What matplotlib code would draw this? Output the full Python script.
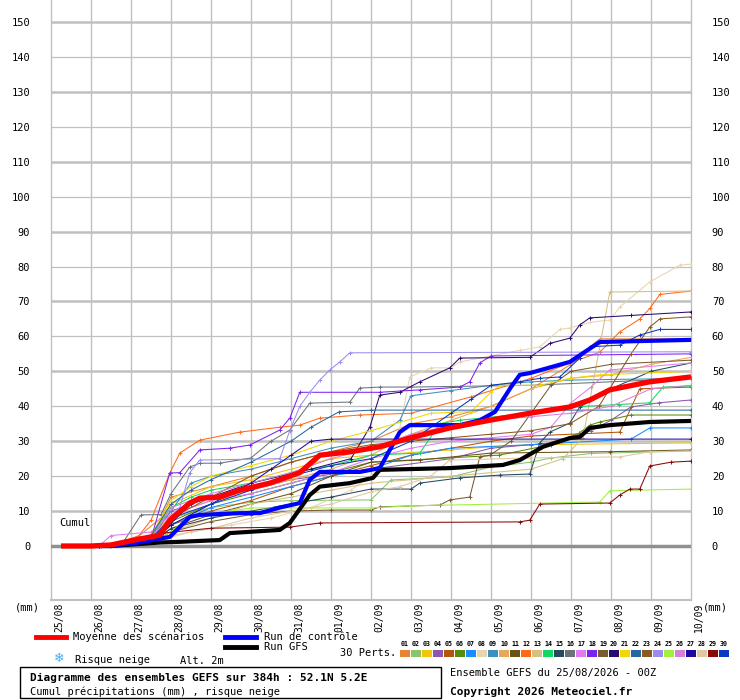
import numpy as np
import matplotlib.pyplot as plt
import matplotlib.transforms as mtransforms

# dates along the x axis (one tick per day, 25/08 00Z -> 10/09 00Z)
dates = ['25/08', '26/08', '27/08', '28/08', '29/08', '30/08', '31/08', '01/09',
         '02/09', '03/09', '04/09', '05/09', '06/09', '07/09', '08/09', '09/09', '10/09']
yticks = list(range(0, 160, 10))

# ensemble mean (day since 25/08 00Z, mm)
mean_d = [0.25, 1.0, 1.5, 2.0, 2.72, 2.97, 3.47, 3.72, 4.22, 4.72, 5.47, 6.22, 6.72, 7.5, 8.22,
          9.0, 9.97, 10.97, 11.97, 12.97, 13.47, 13.97, 14.97, 16.0]
mean_v = [0, 0, 0.3, 1.5, 3.1, 7.4, 12.3, 13.7, 14.0, 16.0, 18.0, 21.0, 26.0, 27.0, 28.4,
          31.0, 33.8, 36.0, 38.0, 39.8, 41.8, 44.7, 47.0, 48.4]

# control run
ctrl_d = [1.2, 1.5, 2.2, 2.97, 3.47, 3.72, 4.72, 5.22, 5.72, 6.22, 6.47, 6.72, 7.72, 8.22, 8.47,
          8.72, 8.97, 10.22, 10.72, 11.1, 11.5, 11.72, 11.97, 12.97, 13.72, 16.0]
ctrl_v = [0, 0, 1.0, 2.6, 8.3, 8.9, 9.4, 9.4, 11.0, 12.3, 19.0, 21.2, 21.2, 22.3, 27.5,
          32.6, 34.6, 34.6, 36.0, 38.4, 45.5, 49.0, 49.5, 52.7, 58.4, 59.0]

# deterministic GFS run
gfs_d = [1.2, 1.5, 2.72, 3.22, 4.22, 4.47, 5.72, 5.97, 6.47, 6.72, 7.47, 8.05, 8.22, 9.97, 11.3,
         11.72, 12.3, 12.97, 13.22, 13.47, 13.97, 14.97, 16.0]
gfs_v = [0, 0, 1.0, 1.2, 1.7, 3.7, 4.6, 6.6, 14.6, 17.0, 18.0, 19.5, 21.8, 22.3, 23.2,
         24.6, 28.4, 30.9, 31.2, 33.8, 34.6, 35.5, 35.8]

# 30 perturbations, (day, mm) pairs
p01 = [(1.2, 0), (2, 1), (2.75, 8), (3, 14), (4, 17), (5, 20), (6, 24), (7, 27), (8, 30), (9, 35),
       (10, 37), (11, 40), (12, 45), (12.97, 51.8), (13.22, 53.8), (13.47, 57), (13.72, 59.3), (16, 59.3)]
p02 = [(1.2, 0), (2.5, 3), (3, 8), (4, 11), (5, 12.5), (6, 13), (8, 13.2), (8.5, 18.9), (10, 19.8),
       (11, 22.6), (12, 24), (12.5, 25.2), (13.5, 26.5), (16, 27.2)]
p03 = [(1.2, 0), (2.5, 2), (3, 12), (4, 17), (5, 19), (6, 22), (7, 25), (8, 26), (10, 27.5),
       (11, 28.4), (12, 29), (16, 29.5)]
p04 = [(1.2, 0), (2.5, 2), (3, 10), (4, 14), (5, 16), (6, 19), (8, 22), (10, 25), (11, 28),
       (12.5, 29.5), (13.5, 33), (14, 36), (14.5, 39.8), (15.2, 41), (16, 41.8)]
p05 = [(1.2, 0), (2.5, 1), (3, 6), (4, 10), (5, 13), (6, 17), (7, 20), (8, 23), (9, 26), (10, 28),
       (11, 30), (12, 31.5), (14.22, 32.6), (14.72, 45), (16, 45.5)]
p06 = [(1.2, 0), (2.5, 2), (3, 7), (4, 12), (5, 15), (6, 18), (7, 21), (8, 24), (11.2, 26),
       (12.5, 29), (13.2, 32.3), (13.47, 34.6), (13.72, 35.5), (14.5, 37.5), (16, 37.5)]
p07 = [(1.2, 0), (2.5, 1), (3, 6), (4, 11), (5, 14), (6, 17), (7, 20), (8, 22), (9, 26), (10, 28),
       (12, 29), (14.5, 30.6), (14.97, 33.8), (16, 33.8)]
p08 = [(1.2, 0), (2.5, 1), (3.5, 4), (4.5, 6), (5.5, 8), (6.5, 11), (7.5, 16), (8.22, 22), (8.5, 28),
       (8.72, 33.8), (8.97, 48.4), (9.5, 51), (10, 51), (10.22, 52.7), (11.72, 56), (12.22, 57),
       (12.72, 62), (12.97, 62.4), (13.47, 64), (13.97, 64.7), (14.22, 68.4), (14.97, 75.6),
       (15.72, 80.4), (16, 80.7)]
p09 = [(1.2, 0), (2.5, 3), (3, 10), (3.5, 18), (4, 20), (5, 22), (6, 25), (7, 28), (8, 30),
       (8.72, 36), (9, 43), (10, 44.5), (11, 46), (12, 47), (13, 47.5), (16, 48)]
p10 = [(1.2, 0), (2.5, 2), (3, 9), (4, 13), (5, 16), (6, 19), (7, 22), (8, 26), (9, 32), (10, 36),
       (11, 40), (12, 45), (13, 48), (14, 49), (15, 52), (16, 54)]
p11 = [(1.2, 0), (2.5, 1), (3, 5), (4, 9), (5, 12), (6, 15), (7, 20), (8, 24), (9.22, 24.6),
       (11, 26.6), (13.97, 27), (16, 27.5)]
p12 = [(1.5, 0), (2.2, 3), (2.5, 7.4), (2.97, 20.9), (3.22, 26.6), (3.72, 30.3), (4.72, 32.6),
       (5.72, 34), (6.22, 34.6), (6.72, 36.6), (7.72, 37.5), (9, 38), (10.5, 42.7), (12, 48),
       (12.97, 52.4), (13.72, 55.5), (14.22, 61.3), (14.72, 65), (14.97, 68), (15.22, 72), (16, 73)]
p13 = [(1.2, 0), (2.5, 1), (3, 4), (4, 8), (5, 12), (6, 14), (7, 16), (8, 18), (10, 20), (12, 22),
       (12.8, 25), (13.3, 31), (13.97, 72.7), (16, 73)]
p14 = [(1.2, 0), (2.5, 3), (3, 11), (3.5, 14), (4, 16), (5, 18), (6, 21), (7, 23), (8, 26),
       (9.22, 26.6), (9.72, 35), (10.22, 36), (11.97, 38), (12.5, 39.5), (14.2, 40.5), (14.97, 41),
       (15.3, 45.5), (16, 45.8)]
p15 = [(1.2, 0), (2.5, 1), (3, 5), (4, 8), (5, 10), (6, 12), (7, 14), (8, 16.3), (9, 16.3),
       (9.22, 18), (10.22, 19.5), (11.22, 20.3), (11.97, 20.6), (12.22, 29.5), (12.47, 32.6),
       (12.97, 35.2), (13.22, 39.8), (14, 45), (15, 50), (16, 52.4)]
p16 = [(1.2, 0), (1.8, 1), (2.25, 8.9), (2.75, 9), (3, 15), (3.47, 22.6), (3.72, 23.7), (4.22, 23.7),
       (5, 25.2), (5.5, 30), (5.97, 33.2), (6.47, 40.9), (7.47, 41.2), (7.72, 45.2), (8.22, 45.5),
       (9, 45.5), (12, 46), (16, 48)]
p17 = [(1.2, 0), (1.5, 3), (2.5, 4), (3, 9), (4, 13), (5, 15), (6, 18), (7, 21), (8, 25), (9, 28),
       (10, 30), (11, 31), (12, 32), (12.5, 34), (13, 41), (13.5, 45.5), (13.97, 50.4), (16, 52.4)]
p18 = [(1.2, 0), (2.5, 2), (2.97, 20.9), (3.22, 21), (3.72, 27.5), (4.47, 28), (4.97, 28.9),
       (5.72, 33.2), (5.97, 36.6), (6.22, 44), (8.22, 44), (9.22, 44.7), (10.22, 45.5), (10.47, 47),
       (10.72, 52.4), (11, 54.4), (16, 55)]
p19 = [(1.2, 0), (2.5, 1), (3, 4), (4, 7), (5, 9), (6, 10), (7, 10.3), (8, 10.3), (8.22, 11.2),
       (9.72, 11.7), (9.97, 13.2), (10.47, 14), (10.72, 25.5), (10.97, 26), (11.5, 30), (12, 38),
       (12.5, 46), (13, 50), (14, 52), (16, 53.2)]
p20 = [(1.2, 0), (2.5, 1), (3.5, 12), (5, 18), (6.5, 22), (7.5, 25), (7.97, 34), (8.22, 43.2),
       (8.72, 44), (9.22, 47), (9.97, 51), (10.22, 53.8), (11.97, 54), (12.47, 58), (12.97, 59.5),
       (13.22, 63.3), (13.47, 65.3), (14.5, 66), (16, 67)]
p21 = [(1.2, 0), (2.5, 3), (3, 13), (3.5, 17), (4, 20), (5, 23), (6, 26), (7, 30), (8, 33),
       (9.5, 38), (10.5, 38.5), (11, 44), (11.22, 46), (12.22, 46), (12.97, 48), (13.72, 49), (16, 50)]
p22 = [(1.2, 0), (2.5, 3), (3, 12), (3.5, 16), (4, 19), (5, 24), (6, 30), (6.5, 34), (7.2, 38.4),
       (8, 38.9), (16, 38.9)]
p23 = [(1.2, 0), (2.5, 2), (3, 8), (4, 14), (5, 20), (6, 24), (7, 27), (8, 29), (9, 30), (10, 31),
       (11, 32), (12, 33), (12.97, 35), (13.7, 40), (14.5, 55), (14.97, 62.7), (15.22, 65), (16, 65.6)]
p24 = [(1.2, 0), (2.5, 2), (3.22, 11), (3.47, 21), (3.72, 24.6), (5.72, 25), (5.97, 33), (6.22, 40),
       (6.47, 44), (6.72, 47.5), (6.97, 50.4), (7.22, 52.7), (7.47, 55.3), (16, 55.6)]
p25 = [(1.2, 0), (2.5, 1), (3, 4), (3.5, 9), (4.5, 10), (5, 10.9), (8, 10.9), (9, 11.5),
       (13.72, 12.6), (13.97, 15.8), (16, 16.3)]
p26 = [(1.2, 0), (2.5, 2), (3, 11), (4, 15), (5, 18), (6, 21), (7, 25), (8, 28), (9, 32), (10, 34.5),
       (11, 36), (12, 37), (13, 38), (14, 40), (15, 45), (16, 46)]
p27 = [(1.2, 0), (2.5, 1), (3, 6), (4, 12), (5, 18), (5.5, 22), (6, 26), (6.5, 30), (7, 30.6), (16, 30.6)]
p28 = [(1.2, 0), (2.5, 1), (3, 3), (4, 5), (5, 8), (6, 10), (7, 12), (8, 15.5), (8.72, 17),
       (9.47, 19.8), (9.97, 24.6), (11.97, 25.2), (14.22, 25.5), (14.97, 27), (16, 27.2)]
p29 = [(1.2, 0), (1.8, 1), (2.8, 3.7), (4, 5.1), (5.97, 5.4), (6.72, 6.6), (11.72, 6.9), (11.97, 7.4),
       (12.22, 12), (13.97, 12.3), (14.22, 14.6), (14.47, 16.3), (14.72, 16.3), (14.97, 22.9),
       (15.5, 24), (16, 24.3)]
p30 = [(1.2, 0), (2.5, 2), (3, 8), (4, 12), (5, 16), (6, 20), (7, 23), (8, 25), (9, 30), (10, 38),
       (10.5, 42), (11, 46), (11.72, 47), (12.22, 48), (12.72, 48.4), (13.22, 53.8), (13.47, 57),
       (14.22, 57.5), (14.72, 60.4), (15.22, 62), (16, 62)]
perts = [p01, p02, p03, p04, p05, p06, p07, p08, p09, p10, p11, p12, p13, p14, p15,
         p16, p17, p18, p19, p20, p21, p22, p23, p24, p25, p26, p27, p28, p29, p30]

pert_colors = ['#e8832f', '#8bc46a', '#f2c40a', '#8c57ae', '#b5540b', '#5a8a0a', '#1a8cff', '#e8d5b0',
               '#3c90c0', '#e8a85a', '#6b5318', '#ff6a1a', '#d4c080', '#10d860', '#244a60', '#6a7478',
               '#e07cf0', '#7c22f0', '#7a5a30', '#2c0a70', '#f0d800', '#2868a0', '#8a5a20', '#9c8cf0',
               '#a0f040', '#d880d8', '#2008a0', '#e0c8a0', '#880808', '#0a38c0']

W, H = 740, 700
plt.rcParams['font.family'] = 'DejaVu Sans Mono'
fs = 7.5

fig = plt.figure(figsize=(W / 100, H / 100), dpi=100)
ax = fig.add_axes([51 / W, 100 / H, 640 / W, 600 / H])

# pixel scale: 0 mm at y=546, 150 mm at y=22
ppm = (546 - 22) / 150.0
ax.set_xlim(0, 16)
ax.set_ylim(-(600 - 546) / ppm, 546 / ppm)

# grid
for d in range(17):
    ax.axvline(d, color='#c0c0c0', lw=1.0, zorder=0, clip_on=False)
for v in yticks[1:]:
    ax.axhline(v, color='#c0c0c0', lw=1.8 if (v // 10) % 2 == 1 else 0.9, zorder=0)
ax.axhline(0, color='#909090', lw=2.5, zorder=0)
ax.axhline(ax.get_ylim()[0], color='#c0c0c0', lw=1.5, zorder=0, clip_on=False)
for s in ax.spines.values():
    s.set_visible(False)

# perturbations
for pts, c in zip(perts, pert_colors):
    d = [p[0] for p in pts]
    v = [p[1] for p in pts]
    ax.plot(d, v, color=c, lw=0.75, marker='+', ms=3, mew=0.7, zorder=2)

ax.plot(gfs_d, gfs_v, color='black', lw=3.0, zorder=3, solid_capstyle='butt')
ax.plot(ctrl_d, ctrl_v, color='#0000ff', lw=3.0, zorder=4, solid_capstyle='butt')
ax.plot(mean_d, mean_v, color='#ff0000', lw=3.8, zorder=5, solid_capstyle='butt')

ax.text(8 / 40, 6.5, 'Cumul', fontsize=fs, color='black', va='center')

# y labels on both sides
ax.set_yticks(yticks)
ax.set_yticklabels([str(v) for v in yticks], fontsize=fs)
ax.tick_params(axis='y', length=0, pad=15, labelleft=True, labelright=True)

# x labels, vertical, a little to the right of each day line
ax.set_xticks(range(17))
ax.set_xticklabels(dates, rotation=90, fontsize=7)
ax.tick_params(axis='x', length=0, pad=2)
shift = mtransforms.ScaledTranslation(8 / 100, 0, fig.dpi_scale_trans)
for lab in ax.get_xticklabels():
    lab.set_transform(lab.get_transform() + shift)


def px(x, y):
    return x / W, 1 - y / H


fig.text(*px(15, 607), '(mm)', fontsize=fs, va='center')
fig.text(*px(703, 607), '(mm)', fontsize=fs, va='center')

# legend
fig.add_artist(plt.Line2D([36 / W, 66 / W], [1 - 637 / H] * 2, color='#ff0000', lw=3.5))
fig.text(*px(73, 637), 'Moyenne des scénarios', fontsize=fs, va='center')
fig.add_artist(plt.Line2D([225 / W, 256 / W], [1 - 637 / H] * 2, color='#0000ff', lw=3.5))
fig.text(*px(264, 637), 'Run de contrôle', fontsize=fs, va='center')
fig.add_artist(plt.Line2D([225 / W, 256 / W], [1 - 647 / H] * 2, color='black', lw=3.5))
fig.text(*px(264, 647), 'Run GFS', fontsize=fs, va='center')
fig.text(*px(340, 653), '30 Perts.', fontsize=fs, va='center')
for i, c in enumerate(pert_colors):
    x0 = 400 + i * 11
    fig.add_artist(plt.Rectangle((x0 / W, 1 - 657 / H), 10 / W, 7 / H, color=c, lw=0))
    fig.text((x0 + 5) / W, 1 - 644 / H, '%02d' % (i + 1), fontsize=4.8, ha='center', va='center',
             fontweight='bold')
fig.text(*px(54, 659), '\u2744', fontsize=9, color='#4aa8e8', va='center', family='DejaVu Sans')
fig.text(*px(75, 660), 'Risque neige', fontsize=fs, va='center')
fig.text(*px(180, 661), 'Alt. 2m', fontsize=fs, va='center')

fig.add_artist(plt.Rectangle((20 / W, 1 - 698 / H), 421 / W, 31 / H, fill=False, ec='black', lw=1.0))
fig.text(*px(30, 678), 'Diagramme des ensembles GEFS sur 384h : 52.1N 5.2E', fontsize=8,
         fontweight='bold', va='center')
fig.text(*px(30, 692), 'Cumul précipitations (mm) , risque neige', fontsize=fs, va='center')
fig.text(*px(450, 673), 'Ensemble GEFS du 25/08/2026 - 00Z', fontsize=fs, va='center')
fig.text(*px(450, 692), 'Copyright 2026 Meteociel.fr', fontsize=8, fontweight='bold', va='center')

fig.savefig('out.png', dpi=100, facecolor='white')
